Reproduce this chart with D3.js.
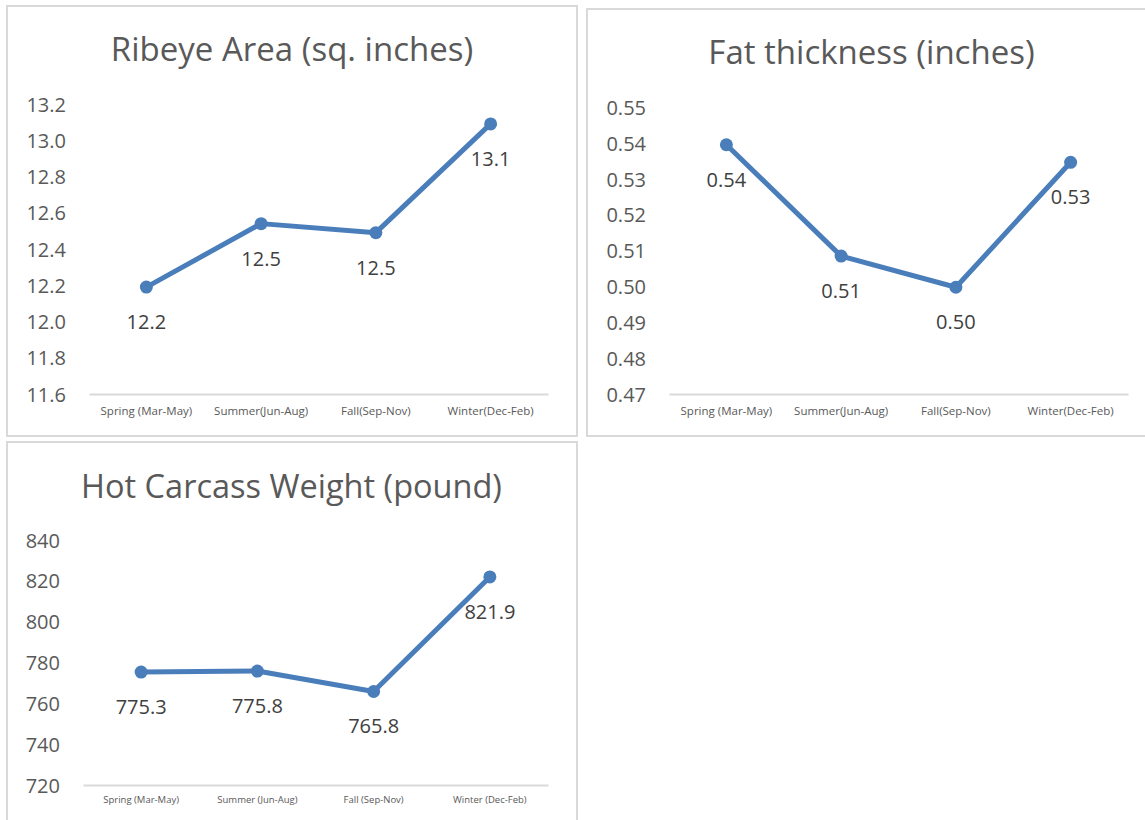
<!DOCTYPE html>
<html>
<head>
<meta charset="utf-8">
<script src="https://cdn.jsdelivr.net/npm/d3@7"></script>
<style>
  html, body { margin: 0; padding: 0; background: #ffffff; }
  svg { display: block; font-family: "Open Sans", "Liberation Sans", sans-serif; }
</style>
</head>
<body>
<svg id="chart" width="1145" height="820"></svg>
<script>
// Season categories (the carcass chart writes them with a space before the bracket)
const seasonsTop = ["Spring (Mar-May)", "Summer(Jun-Aug)", "Fall(Sep-Nov)", "Winter(Dec-Feb)"];
const seasonsBottom = ["Spring (Mar-May)", "Summer (Jun-Aug)", "Fall (Sep-Nov)", "Winter (Dec-Feb)"];

// Seasonal means
const ribeyeArea = [12.19, 12.54, 12.49, 13.09];
const fatThickness = [0.5396, 0.5085, 0.4998, 0.5347];
const hotCarcassWeight = [775.3, 775.8, 765.8, 821.9];

// Value-axis ticks
const ribeyeTicks = [11.6, 11.8, 12.0, 12.2, 12.4, 12.6, 12.8, 13.0, 13.2];
const fatTicks = [0.47, 0.48, 0.49, 0.50, 0.51, 0.52, 0.53, 0.54, 0.55];
const weightTicks = [720, 740, 760, 780, 800, 820, 840];

const LINE = "#4a7ebb";
const BORDER = "#d9d9d9";
const TEXT = "#595959";
const LABEL = "#404040";

const panels = [
  {
    title: "Ribeye Area (sq. inches)", titleSize: 33,
    categories: seasonsTop, values: ribeyeArea, ticks: ribeyeTicks,
    tickFmt: d3.format(".1f"), labelFmt: d3.format(".1f"),
    box: { x: 7, y: 6, w: 570, h: 430 },
    titleX: 292, titleY: 61,
    left: 89, right: 548, top: 104, bottom: 394,
    tickX: 66, catSize: 11.5, catDy: 17
  },
  {
    title: "Fat thickness (inches)", titleSize: 33,
    categories: seasonsTop, values: fatThickness, ticks: fatTicks,
    tickFmt: d3.format(".2f"), labelFmt: d3.format(".2f"),
    box: { x: 587, y: 9, w: 580, h: 427 },
    titleX: 871.5, titleY: 64,
    left: 669, right: 1128, top: 107.5, bottom: 394,
    tickX: 646, catSize: 11.5, catDy: 17
  },
  {
    title: "Hot Carcass Weight (pound)", titleSize: 32.5,
    categories: seasonsBottom, values: hotCarcassWeight, ticks: weightTicks,
    tickFmt: d3.format("d"), labelFmt: d3.format(".1f"),
    box: { x: 7, y: 442, w: 570, h: 400 },
    titleX: 291.5, titleY: 498,
    left: 83, right: 548, top: 540, bottom: 785,
    tickX: 60, catSize: 9.5, catDy: 15
  }
];

const svg = d3.select("#chart");

panels.forEach(p => {
  const g = svg.append("g");

  // chart frame
  g.append("rect")
    .attr("x", p.box.x).attr("y", p.box.y)
    .attr("width", p.box.w).attr("height", p.box.h)
    .attr("fill", "#ffffff")
    .attr("stroke", BORDER).attr("stroke-width", 2);

  // title
  g.append("text")
    .attr("x", p.titleX).attr("y", p.titleY)
    .attr("text-anchor", "middle")
    .attr("font-size", p.titleSize)
    .attr("fill", TEXT)
    .text(p.title);

  const x = d3.scaleBand()
    .domain(p.categories)
    .range([p.left, p.right])
    .padding(0);

  const y = d3.scaleLinear()
    .domain([p.ticks[0], p.ticks[p.ticks.length - 1]])
    .range([p.bottom, p.top]);

  // value axis: labels only
  const yAxis = g.append("g")
    .attr("transform", `translate(${p.tickX},0)`)
    .call(d3.axisLeft(y).tickValues(p.ticks).tickFormat(p.tickFmt).tickSize(0).tickPadding(0))
    .attr("font-family", null)
    .attr("font-size", null);
  yAxis.select(".domain").remove();
  yAxis.selectAll("text")
    .attr("font-size", 20)
    .attr("fill", TEXT)
    .attr("dy", "0.35em");

  // category axis with its baseline
  const xAxis = g.append("g")
    .attr("transform", `translate(0,${p.bottom})`)
    .call(d3.axisBottom(x).tickSize(0).tickPadding(0))
    .attr("font-family", null)
    .attr("font-size", null);
  xAxis.select(".domain")
    .attr("stroke", BORDER).attr("stroke-width", 2);
  xAxis.selectAll("text")
    .attr("font-size", p.catSize)
    .attr("fill", TEXT)
    .attr("y", p.catDy)
    .attr("dy", "0.35em");

  const cx = (d, i) => x(p.categories[i]) + x.bandwidth() / 2;

  // series line
  g.append("path")
    .datum(p.values)
    .attr("fill", "none")
    .attr("stroke", LINE)
    .attr("stroke-width", 5)
    .attr("stroke-linejoin", "round")
    .attr("stroke-linecap", "round")
    .attr("d", d3.line().x(cx).y(d => y(d)));

  // markers
  g.selectAll("circle.marker")
    .data(p.values)
    .join("circle")
    .attr("class", "marker")
    .attr("cx", cx)
    .attr("cy", d => y(d))
    .attr("r", 6.5)
    .attr("fill", LINE);

  // value labels below each point
  g.selectAll("text.value")
    .data(p.values)
    .join("text")
    .attr("class", "value")
    .attr("x", cx)
    .attr("y", d => y(d) + 35)
    .attr("dy", "0.35em")
    .attr("text-anchor", "middle")
    .attr("font-size", 20)
    .attr("fill", LABEL)
    .text(d => p.labelFmt(d));
});
</script>
</body>
</html>
